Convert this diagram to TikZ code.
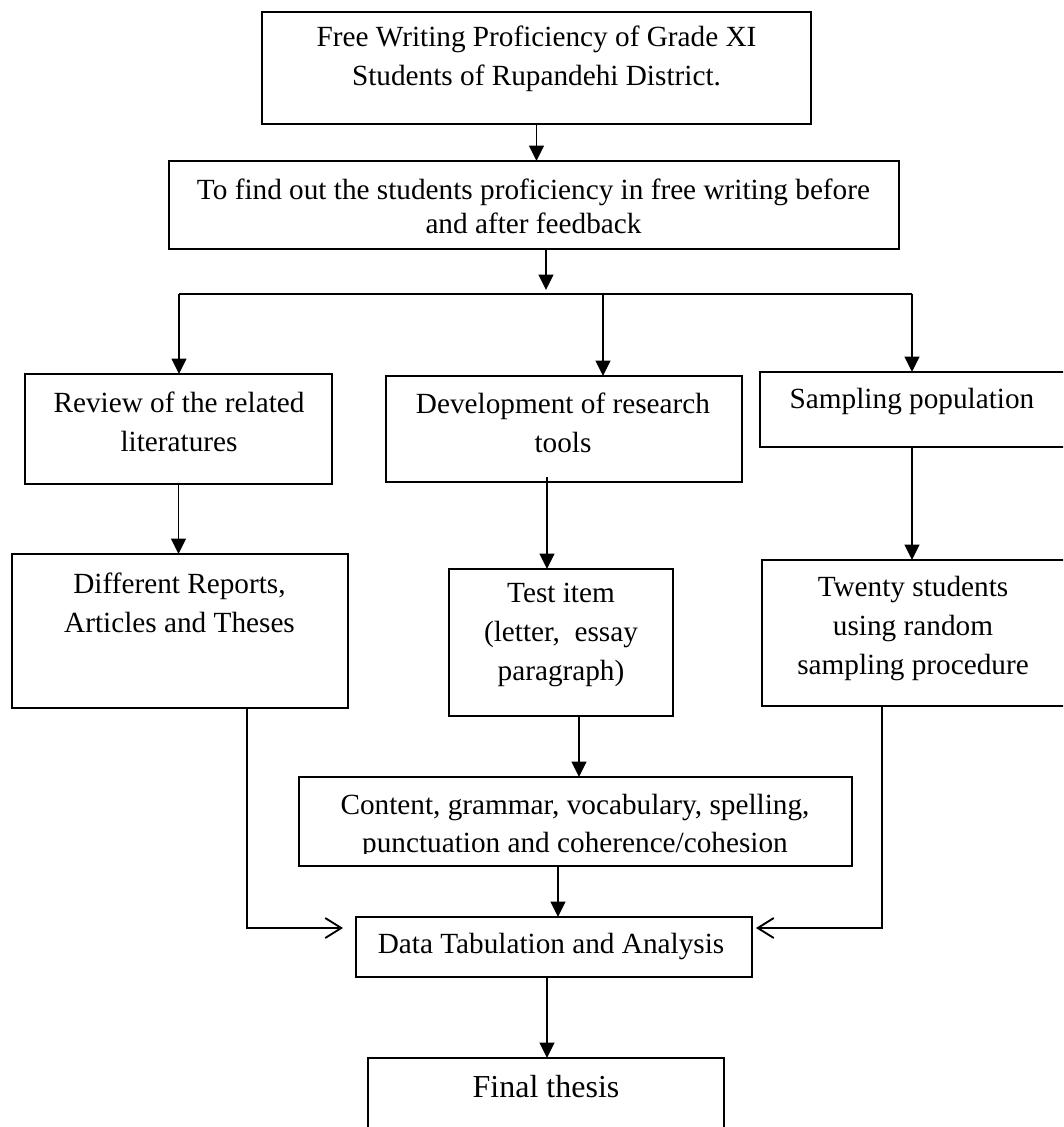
\documentclass[tikz,border=0pt]{standalone}
\usepackage{fontspec}
\setmainfont{Liberation Serif}
\usetikzlibrary{arrows.meta,fit}
\begin{document}
\begin{tikzpicture}[x=0.75pt,y=-0.75pt,
  box/.style={draw, line width=1.5pt, inner sep=0pt, outer sep=0pt},
  txt/.style={align=center, inner sep=0pt, font=\fontsize{21.94pt}{29.25pt}\selectfont},
  ln/.style={line width=1.4pt},
  arr/.style={line width=1.4pt, -{Triangle[length=11.5pt,width=11pt]}},
  oarr/.style={line width=1.4pt, line join=miter, -{Straight Barb[length=12pt,width=15pt,line width=1.4pt]}}]
\useasboundingbox (0,0) rectangle (1063,1127);
\clip (0,0) rectangle (1063,1127);

% boxes
\node[box, fit={(262,12) (811,124)}] (b1) {};
\node[box, fit={(169,161) (899,249)}] (b2) {};
\node[box, fit={(25,374) (332,484)}] (rev) {};
\node[box, fit={(386,376) (742,482)}] (dev) {};
\node[box, fit={(760,372) (1075,447)}] (samp) {};
\node[box, fit={(12,554) (348,708)}] (diff) {};
\node[box, fit={(449,569) (673,716)}] (test) {};
\node[box, fit={(762,560) (1075,706)}] (tw) {};
\node[box, fit={(299,777) (852,866)}] (cont) {};
\node[box, fit={(356,917) (752,977)}] (data) {};
\node[box, fit={(368,1058) (724,1145)}] (fin) {};

% texts
\node[txt] (t1) at (536.5,59) {Free Writing Proficiency of Grade XI\\Students of Rupandehi District.};
\node[txt, font=\fontsize{21.94pt}{25.5pt}\selectfont] (t2) at (533.5,206) {To find out the students proficiency in free writing before\\and after feedback};
\node[txt] (t3) at (179,422) {Review of the related\\literatures};
\node[txt] (t4) at (563,422.5) {Development of research\\tools};
\node[txt] (t5) at (912,402) {Sampling population};
\node[txt] (t6) at (179.5,602.5) {Different Reports,\\Articles and Theses};
\node[txt] (t7) at (561,635) {Test item\\(letter,\ \ essay\\paragraph)};
\node[txt] (t8) at (913,629) {Twenty students\\using random\\sampling procedure};
\begin{scope}
\clip (299,777) rectangle (852,853);
\node[txt, font=\fontsize{21.94pt}{28.5pt}\selectfont] (t9) at (575,826) {Content, grammar, vocabulary, spelling,\\punctuation and coherence/cohesion};
\end{scope}
\node[txt] (t10) at (551,946) {Data Tabulation and Analysis};
\node[txt, font=\fontsize{24pt}{29pt}\selectfont] (t11) at (546,1087) {Final thesis};

% helper coordinates
\coordinate (k1) at (546,294);
\coordinate (hl) at (179,294);
\coordinate (hm) at (603,294);
\coordinate (hr) at (912,294);
\coordinate (k2) at (547,477);
\coordinate (k3) at (579,0);
\coordinate (k4) at (558,0);
\coordinate (k5) at (247,928);
\coordinate (k7) at (882,928);

% connectors
\draw[arr] (b1.south) -- (b1.south |- b2.north);
\draw[arr, shorten >=3pt] (b2.south -| k1) -- (k1);
\draw[ln] (hl) -- (hr);
\draw[arr] (hl) -- (hl |- rev.north);
\draw[arr] (hm) -- (hm |- dev.north);
\draw[arr] (hr) -- (hr |- samp.north);
\draw[arr] (rev.south) -- (rev.south |- diff.north);
\draw[arr] (k2) -- (k2 |- test.north);
\draw[arr] (hr |- samp.south) -- (hr |- tw.north);
\draw[arr] (test.south -| k3) -- (k3 |- cont.north);
\draw[arr] (cont.south -| k4) -- (k4 |- data.north);
\draw[arr] (data.south -| k2) -- (k2 |- fin.north);
\draw[oarr, shorten >=9.75pt] (diff.south -| k5) |- (data.west |- k5);
\draw[oarr, shorten >=3pt] (tw.south -| k7) |- (data.east |- k7);
\end{tikzpicture}
\end{document}
